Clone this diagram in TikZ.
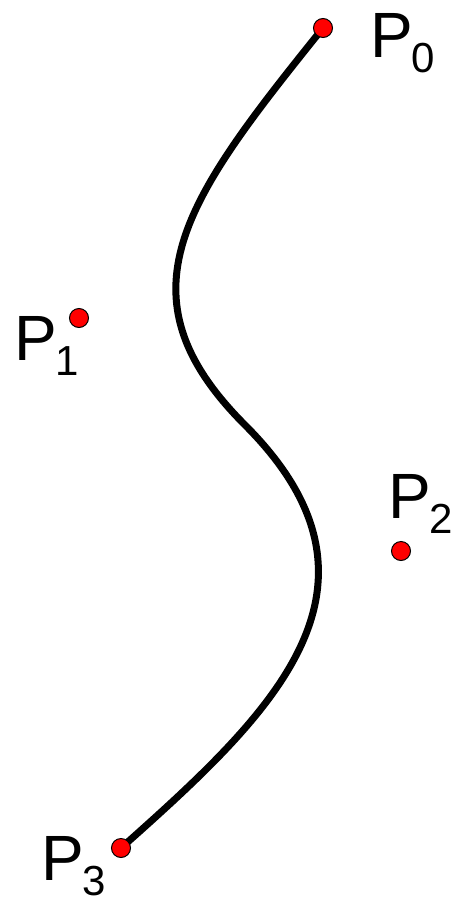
\documentclass[tikz,border=0pt]{standalone}
\usepackage{fontspec}
\setmainfont{Liberation Sans}
\usetikzlibrary{backgrounds}
\tikzset{
  ctrlpt/.style={circle, fill=red, draw=black, line width=1pt, minimum size=19pt, inner sep=0pt},
  ptlabel/.style={anchor=base west, inner sep=0pt, font=\fontsize{64pt}{64pt}\selectfont},
  curveline/.style={line width=7pt, black}
}
\newcommand{\plab}[1]{P\kern-1pt\raisebox{-15pt}{\fontsize{42pt}{42pt}\selectfont #1}}
\begin{document}
\begin{tikzpicture}[x=1pt, y=-1pt]
\useasboundingbox (0,0) rectangle (454,900);
\node[ctrlpt] (p0) at (323,28) {};
\node[ctrlpt] (p1) at (79,318) {};
\node[ctrlpt] (p2) at (401,551) {};
\node[ctrlpt] (p3) at (121,848) {};
\node[ptlabel] (l0) at (370,57) {\plab{0}};
\node[ptlabel] (l1) at (14,360) {\plab{1}};
\node[ptlabel] (l2) at (388,518) {\plab{2}};
\node[ptlabel] (l3) at (41,880) {\plab{3}};
\coordinate (c1) at (185.1,199.4);
\coordinate (c2) at (114.2,294.2);
\coordinate (m) at (245,425);
\coordinate (c3) at (407.6,587.6);
\coordinate (c4) at (270.4,715.2);
\begin{pgfonlayer}{background}
\draw[curveline] (p0.center) .. controls (c1) and (c2) .. (m) .. controls (c3) and (c4) .. (p3.center);
\end{pgfonlayer}
\end{tikzpicture}
\end{document}
